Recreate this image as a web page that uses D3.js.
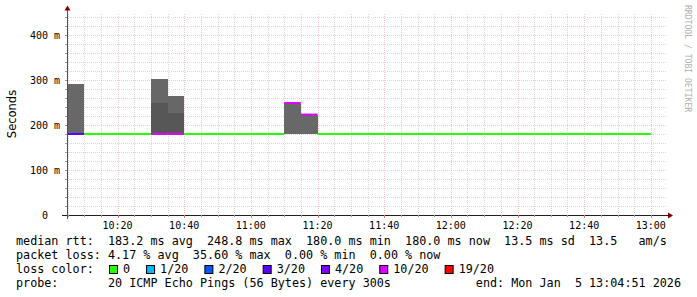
<!DOCTYPE html>
<html>
<head>
<meta charset="utf-8">
<script src="https://cdn.jsdelivr.net/npm/d3@7"></script>
<style>
  body { margin: 0; background: #fff; }
  svg { display: block; }
  text { font-family: "DejaVu Sans Mono", monospace; fill: #000; }
</style>
</head>
<body>
<svg id="chart" width="697" height="297"></svg>
<script>
// one value per 5 minute step
const stepTimes = ['10:05', '10:10', '10:15', '10:20', '10:25', '10:30', '10:35', '10:40', '10:45',
    '10:50', '10:55', '11:00', '11:05', '11:10', '11:15', '11:20', '11:25', '11:30', '11:35', '11:40',
    '11:45', '11:50', '11:55', '12:00', '12:05', '12:10', '12:15', '12:20', '12:25', '12:30', '12:35',
    '12:40', '12:45', '12:50', '12:55'];
const medianMs = [180, 180, 180, 180, 180, 180, 180, 180, 180, 180, 180, 180, 180, 248.8, 223.2,
    180, 180, 180, 180, 180, 180, 180, 180, 180, 180, 180, 180, 180, 180, 180, 180, 180, 180, 180, 180];
const lossCount = [3, 0, 0, 0, 0, 10, 10, 0, 0, 0, 0, 0, 0, 10, 10,
    0, 0, 0, 0, 0, 0, 0, 0, 0, 0, 0, 0, 0, 0, 0, 0, 0, 0, 0, 0];

// smoke bands (ms)
const smokeSteps = ['10:05', '10:30', '10:35', '11:10', '11:15'];
const smokeLow = [180, 180, 180, 180, 180];
const smokeMid = [null, 249, 227, null, null];
const smokeHigh = [291, 302, 264, 246, 223];

const lossLabels = ['0', '1/20', '2/20', '3/20', '4/20', '10/20', '19/20'];
const lossThresholds = [0, 1, 2, 3, 4, 10, 19];
const lossColors = ['#26ff00', '#00b8ff', '#0059ff', '#5e00ff', '#7e00ff', '#dd00ff', '#ff0000'];

const yTicks = [0, 100, 200, 300, 400];
const statLines = [
    'median rtt:  183.2 ms avg  248.8 ms max  180.0 ms min  180.0 ms now  13.5 ms sd  13.5   am/s',
    'packet loss: 4.17 % avg  35.60 % max  0.00 % min  0.00 % now'
];
const probeText = 'probe:       20 ICMP Echo Pings (56 Bytes) every 300s';
const endText = 'end: Mon Jan  5 13:04:51 2026';

const day = '2026-01-05 ',
    parse = d3.timeParse('%Y-%m-%d %H:%M:%S'),
    at = t => parse(day + (t.length === 5 ? t + ':00' : t)),
    stepMin = 5;

const svg = d3.select('#chart'),
    pLeft = 67, pRight = 667, pTop = 12.5, pBottom = 215;

const x = d3.scaleTime()
    .domain([at('10:04:51'), at('13:04:51')])
    .range([pLeft, pRight]);
const y = d3.scaleLinear()
    .domain([0, 450])
    .range([pBottom, pTop]);

const endOf = t => d3.timeMinute.offset(at(t), stepMin);
const clipX = d => Math.max(pLeft, x(d));

// grid
const minorCol = 'rgba(160,160,160,0.42)',
    majorCol = 'rgba(225,110,110,0.38)';
const grid = svg.append('g').attr('shape-rendering', 'crispEdges').attr('stroke-dasharray', '1,1');
const minorX = d3.timeMinute.every(5).range(x.domain()[0], x.domain()[1]),
    majorX = d3.timeMinute.every(20).range(x.domain()[0], x.domain()[1]);

grid.selectAll('.vmin').data(minorX.filter(d => d.getMinutes() % 20 !== 0)).join('line')
    .attr('x1', d => Math.round(x(d)) + 0.5).attr('x2', d => Math.round(x(d)) + 0.5)
    .attr('y1', pBottom).attr('y2', pTop)
    .attr('stroke', minorCol);
grid.selectAll('.hmin').data(d3.range(20, 450, 20).filter(v => v % 100 !== 0)).join('line')
    .attr('x1', pLeft).attr('x2', pRight)
    .attr('y1', d => Math.round(y(d)) + 0.5).attr('y2', d => Math.round(y(d)) + 0.5)
    .attr('stroke', minorCol);
grid.selectAll('.vmaj').data(majorX).join('line')
    .attr('x1', d => Math.round(x(d)) + 0.5).attr('x2', d => Math.round(x(d)) + 0.5)
    .attr('y1', pBottom).attr('y2', pTop)
    .attr('stroke', majorCol);
grid.selectAll('.hmaj').data(yTicks.filter(v => v > 0)).join('line')
    .attr('x1', pLeft).attr('x2', pRight)
    .attr('y1', d => Math.round(y(d)) + 0.5).attr('y2', d => Math.round(y(d)) + 0.5)
    .attr('stroke', majorCol);

// smoke
const smoke = svg.append('g').attr('shape-rendering', 'crispEdges');
smokeSteps.forEach((t, i) => {
    const x0 = clipX(at(t)), x1 = x(endOf(t));
    if (smokeMid[i] === null) {
        smoke.append('rect')
            .attr('x', x0).attr('width', x1 - x0)
            .attr('y', y(smokeHigh[i])).attr('height', y(smokeLow[i]) - y(smokeHigh[i]))
            .attr('fill', '#686868');
    } else {
        smoke.append('rect')
            .attr('x', x0).attr('width', x1 - x0)
            .attr('y', y(smokeHigh[i])).attr('height', y(smokeMid[i]) - y(smokeHigh[i]))
            .attr('fill', '#676767');
        smoke.append('rect')
            .attr('x', x0).attr('width', x1 - x0)
            .attr('y', y(smokeMid[i])).attr('height', y(smokeLow[i]) - y(smokeMid[i]))
            .attr('fill', '#575757');
    }
});

// median line, coloured by loss
function lossColor(n) {
    let c = lossColors[0];
    lossThresholds.forEach((th, i) => { if (n >= th) c = lossColors[i]; });
    return c;
}
svg.append('g').selectAll('line').data(stepTimes).join('line')
    .attr('x1', d => clipX(at(d)))
    .attr('x2', d => x(endOf(d)))
    .attr('y1', (d, i) => y(medianMs[i]))
    .attr('y2', (d, i) => y(medianMs[i]))
    .attr('stroke', (d, i) => lossColor(lossCount[i]))
    .attr('stroke-width', 2);

// axes
const axis = svg.append('g').attr('shape-rendering', 'crispEdges');
axis.append('line').attr('x1', pLeft - 5).attr('x2', pRight + 2)
    .attr('y1', pBottom + 0.5).attr('y2', pBottom + 0.5).attr('stroke', '#202020');
axis.append('line').attr('x1', pLeft + 0.5).attr('x2', pLeft + 0.5)
    .attr('y1', pBottom + 4).attr('y2', pTop - 3).attr('stroke', '#505050');
axis.selectAll('.tx').data(minorX).join('line')
    .attr('x1', d => Math.round(x(d)) + 0.5).attr('x2', d => Math.round(x(d)) + 0.5)
    .attr('y1', pBottom).attr('y2', d => pBottom + (d.getMinutes() % 20 === 0 ? 3 : 2))
    .attr('stroke', d => d.getMinutes() % 20 === 0 ? '#d08080' : '#a0a0a0');
axis.selectAll('.ty').data(d3.range(20, 450, 20)).join('line')
    .attr('x1', pLeft - 2).attr('x2', pLeft)
    .attr('y1', d => Math.round(y(d)) + 0.5).attr('y2', d => Math.round(y(d)) + 0.5)
    .attr('stroke', d => d % 100 === 0 ? '#d08080' : '#a0a0a0');

svg.append('path')
    .attr('d', `M${pRight + 1},${pBottom - 2.5}L${pRight + 6},${pBottom + 0.5}L${pRight + 1},${pBottom + 3.5}Z`)
    .attr('fill', '#800000');
svg.append('path')
    .attr('d', `M${pLeft - 2.5},${pTop - 2}L${pLeft + 0.5},${pTop - 7}L${pLeft + 3.5},${pTop - 2}Z`)
    .attr('fill', '#800000');

// tick labels
svg.append('g').selectAll('text').data(majorX).join('text')
    .attr('x', d => x(d)).attr('y', 228.5)
    .attr('text-anchor', 'middle').attr('font-size', '10px')
    .text(d3.timeFormat('%H:%M'));
svg.append('g').selectAll('text').data(yTicks).join('text')
    .attr('x', 45).attr('y', d => y(d)).attr('dy', '0.36em')
    .attr('text-anchor', 'middle').attr('font-size', '10px')
    .text(d => d === 0 ? '0' : d + ' m');

svg.append('text')
    .attr('transform', 'translate(15.5,114) rotate(-90)')
    .attr('text-anchor', 'middle')
    .style('font-family', '"DejaVu Sans", sans-serif')
    .attr('font-size', '11.5px')
    .text('Seconds');

svg.append('text')
    .attr('transform', 'translate(685,5) rotate(90)')
    .attr('font-size', '8.1px')
    .style('fill', '#b0b0b0')
    .text('RRDTOOL / TOBI OETIKER');

// legend and stats
const fs = '11.75px', lx = 16;
statLines.forEach((s, i) => {
    svg.append('text').attr('x', lx).attr('y', 245 + i * 14)
        .attr('font-size', fs).attr('xml:space', 'preserve').style('white-space', 'pre')
        .text(s);
});
svg.append('text').attr('x', lx).attr('y', 273).attr('font-size', fs).text('loss color:');
let cx = 109;
lossLabels.forEach((l, i) => {
    svg.append('rect').attr('x', cx + 0.5).attr('y', 265.5).attr('width', 8).attr('height', 8)
        .attr('fill', lossColors[i]).attr('stroke', '#000').attr('stroke-width', 1);
    const t = svg.append('text').attr('x', cx + 14).attr('y', 273).attr('font-size', fs).text(l);
    cx = cx + 14 + t.node().getComputedTextLength() + 16;
});
svg.append('text').attr('x', lx).attr('y', 287)
    .attr('font-size', fs).attr('xml:space', 'preserve').style('white-space', 'pre')
    .text(probeText);
svg.append('text').attr('x', 681).attr('y', 287).attr('text-anchor', 'end')
    .attr('font-size', fs).attr('xml:space', 'preserve').style('white-space', 'pre')
    .text(endText);
</script>
</body>
</html>
